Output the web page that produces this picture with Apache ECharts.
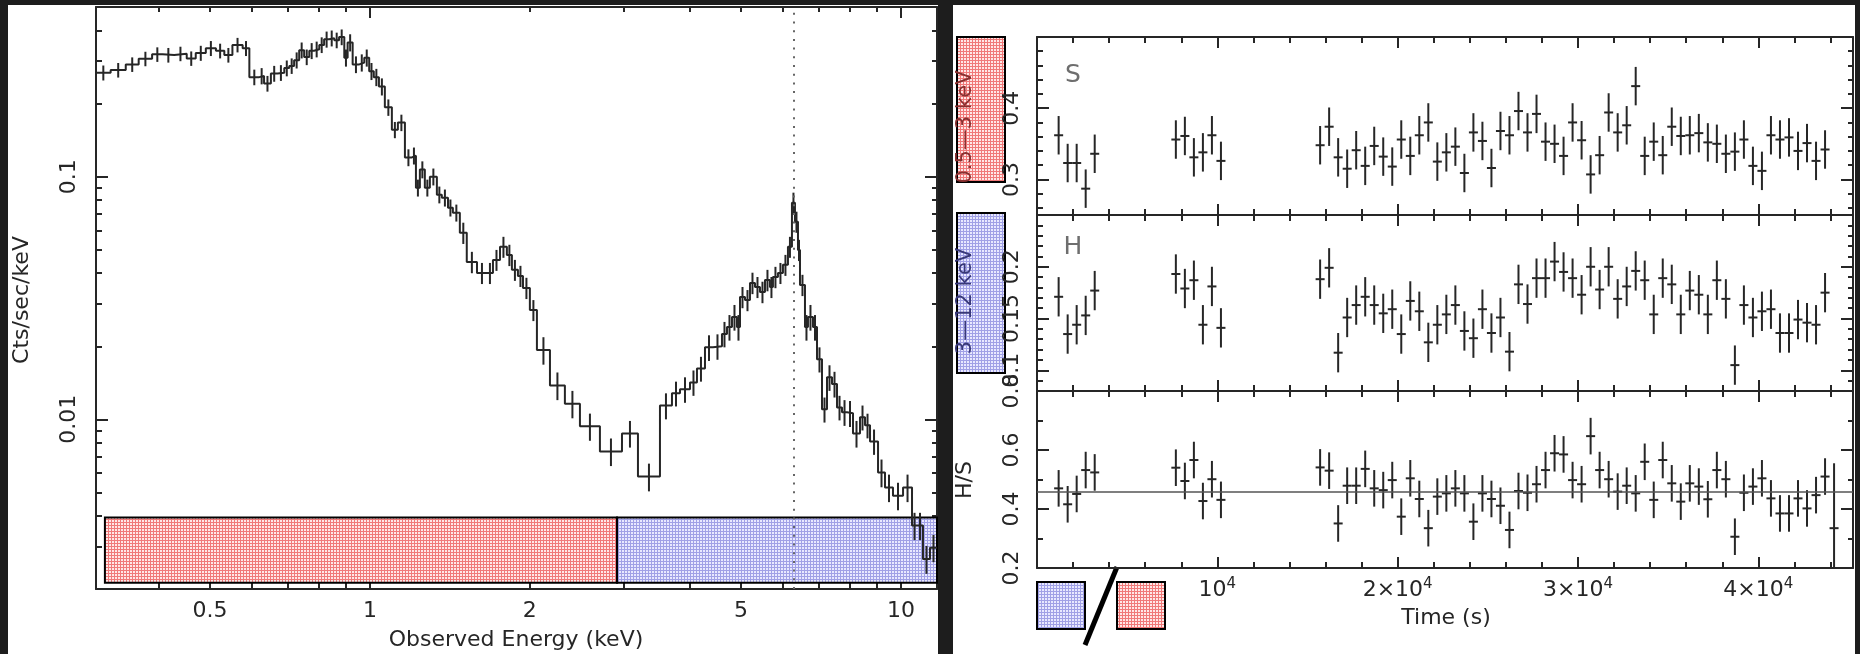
<!DOCTYPE html>
<html>
<head>
<meta charset="utf-8">
<title>Spectrum and light curves</title>
<script src="https://cdn.jsdelivr.net/npm/echarts@6/dist/echarts.min.js"></script>
<style>
  html, body { margin: 0; padding: 0; background: #1d1d1d; }
  #wrap { position: relative; width: 1860px; height: 654px; overflow: hidden; }
  .panel { position: absolute; background: #fff; top: 5px; height: 649px; }
  #chart { position: absolute; left: 0; top: 0; width: 1860px; height: 654px; }
</style>
</head>
<body>
<div id="wrap">
  <div class="panel" style="left:8px;width:930px"></div>
  <div class="panel" style="left:953px;width:902px"></div>
  <div id="chart"></div>
</div>
<script>
// ---------------- X-ray spectrum: count rate per energy bin ----------------
const binEdges = [
  0.305, 0.325, 0.347, 0.367, 0.389, 0.407, 0.428, 0.452, 0.470, 0.491,
  0.513, 0.532, 0.551, 0.576, 0.593, 0.619, 0.632, 0.651, 0.670, 0.690,
  0.705, 0.720, 0.736, 0.752, 0.769, 0.785, 0.803, 0.820, 0.838, 0.857,
  0.875, 0.895, 0.908, 0.928, 0.955, 0.976, 0.997, 1.017, 1.040, 1.067,
  1.100, 1.129, 1.164, 1.200, 1.221, 1.242, 1.269, 1.297, 1.337, 1.366,
  1.403, 1.433, 1.477, 1.522, 1.591, 1.661, 1.705, 1.758, 1.811, 1.851,
  1.900, 1.942, 2.001, 2.063, 2.183, 2.329, 2.486, 2.711, 2.983, 3.197,
  3.517, 3.705, 3.836, 4.006, 4.129, 4.275, 4.426, 4.602, 4.703, 4.806,
  4.911, 4.976, 5.085, 5.196, 5.310, 5.426, 5.545, 5.666, 5.740, 5.866,
  5.994, 6.126, 6.233, 6.315, 6.398, 6.454, 6.595, 6.681, 6.828, 6.948,
  7.100, 7.256, 7.415, 7.578, 7.744, 7.914, 8.122, 8.372, 8.556, 8.744,
  9.053, 9.330, 9.659, 10.09, 10.49, 10.72, 11.00, 11.34, 11.69
];
const countRate = [
  0.268, 0.275, 0.290, 0.306, 0.319, 0.317, 0.321, 0.307, 0.323, 0.338,
  0.330, 0.317, 0.349, 0.338, 0.257, 0.260, 0.242, 0.266, 0.268, 0.280,
  0.286, 0.302, 0.332, 0.311, 0.330, 0.335, 0.349, 0.368, 0.372, 0.365,
  0.376, 0.309, 0.357, 0.290, 0.295, 0.309, 0.272, 0.257, 0.235, 0.193,
  0.156, 0.167, 0.120, 0.122, 0.090, 0.107, 0.090, 0.100, 0.0843, 0.0819,
  0.0745, 0.0710, 0.0587, 0.0445, 0.0401, 0.0401, 0.0454, 0.0514, 0.0476, 0.0413,
  0.0390, 0.0348, 0.0282, 0.0193, 0.0138, 0.0116, 0.00936, 0.00738, 0.00875, 0.00581,
  0.0114, 0.0128, 0.0133, 0.0142, 0.0162, 0.0198, 0.0200, 0.0225, 0.0240, 0.0264,
  0.0240, 0.0319, 0.0310, 0.0365, 0.0351, 0.0335, 0.0375, 0.0351, 0.0386, 0.0401,
  0.0433, 0.0514, 0.0781, 0.0652, 0.0499, 0.0358, 0.0240, 0.0264, 0.0240, 0.0177,
  0.0110, 0.0149, 0.0140, 0.0112, 0.0107, 0.0106, 0.00875, 0.0102, 0.00945, 0.00811,
  0.00604, 0.00524, 0.00485, 0.00524, 0.00365, 0.00365, 0.00266, 0.00296
];
const countErr = [
  0.019, 0.019, 0.020, 0.021, 0.022, 0.022, 0.022, 0.021, 0.023, 0.024,
  0.023, 0.022, 0.024, 0.024, 0.019, 0.020, 0.018, 0.020, 0.020, 0.021,
  0.021, 0.023, 0.025, 0.023, 0.025, 0.025, 0.026, 0.028, 0.028, 0.027,
  0.028, 0.025, 0.029, 0.023, 0.024, 0.025, 0.022, 0.021, 0.019, 0.015,
  0.012, 0.013, 0.0096, 0.0098, 0.0072, 0.0086, 0.0072, 0.0080, 0.0067, 0.0066,
  0.0060, 0.0057, 0.0059, 0.0045, 0.0040, 0.0040, 0.0045, 0.0051, 0.0048, 0.0041,
  0.0039, 0.0035, 0.0028, 0.0025, 0.0018, 0.0015, 0.0012, 0.00096, 0.0011, 0.00076,
  0.0014, 0.0015, 0.0016, 0.0017, 0.0019, 0.0024, 0.0024, 0.0027, 0.0029, 0.0032,
  0.0029, 0.0032, 0.0031, 0.0037, 0.0035, 0.0034, 0.0038, 0.0035, 0.0039, 0.0040,
  0.0043, 0.0051, 0.0078, 0.0065, 0.0050, 0.0036, 0.0029, 0.0032, 0.0029, 0.0021,
  0.0013, 0.0018, 0.0017, 0.0013, 0.0013, 0.0013, 0.0011, 0.0012, 0.0011, 0.00097,
  0.00079, 0.00068, 0.00063, 0.00068, 0.00047, 0.00047, 0.00035, 0.00038
];
const feLineEnergy = 6.29;               // keV, dotted marker
const softBand = [0.317, 2.92];          // keV span of the red band box
const hardBand = [2.92, 11.69];          // keV span of the blue band box

const energyMinorTicks = [0.4, 0.5, 0.6, 0.7, 0.8, 0.9, 2, 3, 4, 5, 6, 7, 8, 9];
const energyMajorTicks = [1, 10];
const energyTickLabels = ['0.5', '1', '2', '5', '10'];
const rateMinorTicks = [0.003, 0.004, 0.005, 0.006, 0.007, 0.008, 0.009,
  0.02, 0.03, 0.04, 0.05, 0.06, 0.07, 0.08, 0.09, 0.2, 0.3, 0.4];
const rateMajorTicks = [0.01, 0.1];
const rateTickLabels = ['0.01', '0.1'];

// ---------------- Light curves, 500 s bins ----------------
const time = [
  1200, 1700, 2200, 2700, 3200,
  7700, 8200, 8700, 9200, 9700, 10200,
  15700, 16200, 16700, 17200, 17700, 18200, 18700, 19200, 19700, 20200,
  20700, 21200, 21700, 22200, 22700, 23200, 23700, 24200, 24700, 25200,
  25700, 26200, 26700, 27200, 27700, 28200, 28700, 29200, 29700, 30200,
  30700, 31200, 31700, 32200, 32700, 33200, 33700, 34200, 34700, 35200,
  35700, 36200, 36700, 37200, 37700, 38200, 38700, 39200, 39700, 40200,
  40700, 41200, 41700, 42200, 42700, 43200, 43700, 44200
];
const soft = [
  0.362, 0.323, 0.323, 0.287, 0.336,
  0.356, 0.361, 0.331, 0.338, 0.362, 0.326,
  0.348, 0.374, 0.331, 0.315, 0.341, 0.319, 0.347, 0.332, 0.318, 0.356,
  0.333, 0.362, 0.380, 0.325, 0.338, 0.346, 0.309, 0.366, 0.354, 0.316,
  0.368, 0.362, 0.396, 0.366, 0.392, 0.353, 0.350, 0.333, 0.380, 0.355,
  0.307, 0.334, 0.394, 0.366, 0.376, 0.431, 0.333, 0.353, 0.334, 0.374,
  0.361, 0.362, 0.365, 0.352, 0.350, 0.336, 0.339, 0.356, 0.319, 0.312,
  0.362, 0.356, 0.359, 0.340, 0.351, 0.326, 0.342, null
];
const hard = [
  0.171, 0.135, 0.144, 0.153, 0.177,
  0.193, 0.179, 0.187, 0.144, 0.181, 0.141,
  0.188, 0.199, 0.117, 0.151, 0.163, 0.171, 0.163, 0.155, 0.159, 0.135,
  0.167, 0.157, 0.127, 0.144, 0.154, 0.163, 0.138, 0.131, 0.159, 0.136,
  0.151, 0.118, 0.183, 0.164, 0.189, 0.189, 0.205, 0.195, 0.189, 0.173,
  0.200, 0.178, 0.200, 0.169, 0.181, 0.196, 0.187, 0.154, 0.189, 0.183,
  0.154, 0.177, 0.173, 0.154, 0.187, 0.169, 0.105, 0.163, 0.151, 0.157,
  0.159, 0.136, 0.136, 0.149, 0.146, 0.144, 0.175, null
];
const ratio = [
  0.470, 0.416, 0.451, 0.532, 0.524,
  0.540, 0.495, 0.566, 0.427, 0.501, 0.431,
  0.541, 0.530, 0.351, 0.479, 0.479, 0.536, 0.470, 0.464, 0.498, 0.374,
  0.504, 0.434, 0.335, 0.442, 0.453, 0.470, 0.453, 0.357, 0.453, 0.434,
  0.411, 0.329, 0.461, 0.455, 0.484, 0.532, 0.589, 0.585, 0.498, 0.484,
  0.647, 0.532, 0.501, 0.459, 0.479, 0.453, 0.560, 0.431, 0.566, 0.487,
  0.425, 0.487, 0.476, 0.433, 0.532, 0.501, 0.306, 0.455, 0.476, 0.504,
  0.436, 0.385, 0.385, 0.436, 0.402, 0.447, 0.510, 0.335
];
const softErr = 0.027;
const hardErr = 0.019;
const ratioErr = [
  0.062, 0.062, 0.062, 0.062, 0.062,
  0.062, 0.062, 0.062, 0.062, 0.062, 0.062,
  0.062, 0.062, 0.062, 0.062, 0.062, 0.062, 0.062, 0.062, 0.062, 0.062,
  0.062, 0.062, 0.062, 0.062, 0.062, 0.062, 0.062, 0.062, 0.062, 0.062,
  0.062, 0.062, 0.062, 0.062, 0.062, 0.062, 0.062, 0.062, 0.062, 0.062,
  0.062, 0.062, 0.062, 0.062, 0.062, 0.062, 0.062, 0.062, 0.062, 0.062,
  0.062, 0.062, 0.062, 0.062, 0.062, 0.062, 0.062, 0.062, 0.062, 0.062,
  0.062, 0.062, 0.062, 0.062, 0.062, 0.062, 0.062, 0.22
];
const ratioMean = 0.455;
const timeBin = 500;

const timeMinorTicks = [2000, 4000, 6000, 8000, 12000, 14000, 16000, 18000,
  22000, 24000, 26000, 28000, 32000, 34000, 36000, 38000, 42000, 44000];
const timeMajorTicks = [10000, 20000, 30000, 40000];
const softMinorTicks = [0.26, 0.28, 0.32, 0.34, 0.36, 0.38, 0.42, 0.44, 0.46, 0.48];
const softMajorTicks = [0.3, 0.4];
const softTickLabels = ['0.3', '0.4'];
const hardMinorTicks = [0.09, 0.11, 0.12, 0.13, 0.14, 0.16, 0.17, 0.18, 0.19,
  0.21, 0.22, 0.23, 0.24];
const hardMajorTicks = [0.1, 0.15, 0.2];
const hardTickLabels = ['0.1', '0.15', '0.2'];
const ratioMinorTicks = [0.3, 0.5, 0.7];
const ratioMajorTicks = [0.4, 0.6];
const ratioTickLabels = ['0.2', '0.4', '0.6', '0.8'];

// ---------------- drawing ----------------
const ink = '#262626';
const font = 'DejaVu Sans';
const lg = Math.log10;

function hatch(bg, line) {
  const c = document.createElement('canvas');
  c.width = 3; c.height = 3;
  const g = c.getContext('2d');
  g.fillStyle = bg; g.fillRect(0, 0, 3, 3);
  g.fillStyle = line; g.fillRect(0, 0, 3, 1); g.fillRect(0, 0, 1, 3);
  return { image: c, repeat: 'repeat' };
}
const redHatch = hatch('#ffe6e6', '#f07878');
const blueHatch = hatch('#e8e8ff', '#a0a0e6');

function labelFor(labels, v, useLog) {
  const s = labels.find(l => Math.abs((useLog ? lg(+l) : +l) - v) < 1e-6);
  return s === undefined ? '' : s;
}

const xAxes = [], yAxes = [];
const addX = o => (xAxes.push(o), xAxes.length - 1);
const addY = o => (yAxes.push(o), yAxes.length - 1);

function tickAxis(gridIndex, position, min, max, ticks, len, withLine, labelValues, formatter, extra) {
  return {
    type: 'value', gridIndex, position, min, max,
    axisLine: { show: withLine, onZero: false, lineStyle: { color: ink, width: 2 } },
    axisTick: { show: true, inside: true, length: len, customValues: ticks,
      lineStyle: { color: ink, width: 2 } },
    axisLabel: labelValues
      ? Object.assign({ show: true, customValues: labelValues, formatter,
          color: ink, fontFamily: font, fontSize: 22 }, extra || {})
      : { show: false },
    splitLine: { show: false },
    axisPointer: { show: false }
  };
}

// --- spectrum panel (grid 0) ---
const eMin = 0.305, eMax = 11.69, rMin = 0.002, rMax = 0.5;
const grids = [{ left: 96, top: 7, width: 841, height: 582 }];
const specX = addX({ type: 'log', gridIndex: 0, min: eMin, max: eMax, show: false });
const specY = addY({ type: 'log', gridIndex: 0, min: rMin, max: rMax, show: false });
const eLo = lg(eMin), eHi = lg(eMax), rLo = lg(rMin), rHi = lg(rMax);
addX(tickAxis(0, 'bottom', eLo, eHi, energyMinorTicks.map(lg), 6, true));
addX(tickAxis(0, 'bottom', eLo, eHi, energyMajorTicks.map(lg), 12, false,
  energyTickLabels.map(s => lg(+s)), v => labelFor(energyTickLabels, v, true), { margin: 11 }));
addX(tickAxis(0, 'top', eLo, eHi, energyMinorTicks.map(lg), 5, true));
addX(tickAxis(0, 'top', eLo, eHi, energyMajorTicks.map(lg), 11, false));
addY(tickAxis(0, 'left', rLo, rHi, rateMinorTicks.map(lg), 6, true));
addY(tickAxis(0, 'left', rLo, rHi, rateMajorTicks.map(lg), 12, false,
  rateTickLabels.map(s => lg(+s)), v => labelFor(rateTickLabels, v, true), { rotate: 90, margin: 16 }));
addY(tickAxis(0, 'right', rLo, rHi, rateMinorTicks.map(lg), 5, true));
addY(tickAxis(0, 'right', rLo, rHi, rateMajorTicks.map(lg), 12, false));

const stepPts = [];
countRate.forEach((r, i) => { stepPts.push([binEdges[i], r], [binEdges[i + 1], r]); });
const errPts = countRate.map((r, i) => [Math.sqrt(binEdges[i] * binEdges[i + 1]), r, countErr[i]]);
const bandBoxRates = [0.00394, 0.00212];   // vertical placement of the band boxes

const series = [];
series.push({
  type: 'custom', xAxisIndex: specX, yAxisIndex: specY, z: 1, silent: true,
  data: [[softBand[0], softBand[1], 0], [hardBand[0], hardBand[1], 1]],
  renderItem(params, api) {
    const p1 = api.coord([api.value(0), bandBoxRates[0]]);
    const p2 = api.coord([api.value(1), bandBoxRates[1]]);
    return { type: 'rect', shape: { x: p1[0], y: p1[1], width: p2[0] - p1[0], height: p2[1] - p1[1] },
      style: { fill: api.value(2) === 0 ? redHatch : blueHatch, stroke: '#000', lineWidth: 2 } };
  }
});
series.push({
  type: 'custom', xAxisIndex: specX, yAxisIndex: specY, z: 3, silent: true, clip: true,
  data: errPts,
  renderItem(params, api) {
    const a = api.coord([api.value(0), api.value(1) - api.value(2)]);
    const b = api.coord([api.value(0), api.value(1) + api.value(2)]);
    return { type: 'line', shape: { x1: a[0], y1: a[1], x2: b[0], y2: b[1] },
      style: { stroke: ink, lineWidth: 2 } };
  },
  markLine: {
    silent: true, symbol: 'none', animation: false,
    label: { show: false },
    lineStyle: { color: '#666', width: 2, type: [2, 6.7] },
    data: [{ xAxis: feLineEnergy }]
  }
});
series.push({
  type: 'line', xAxisIndex: specX, yAxisIndex: specY, z: 4, silent: true,
  data: stepPts, symbol: 'none', clip: true,
  lineStyle: { color: ink, width: 2 }
});

// --- light-curve panels (grids 1..3) ---
const tMin = 0, tMax = 45250;
const panels = [
  { top: 37, height: 178, min: 0.25, max: 0.5, minor: softMinorTicks, major: softMajorTicks,
    labels: softTickLabels, values: soft, err: () => softErr },
  { top: 215, height: 176, min: 0.08, max: 0.25, minor: hardMinorTicks, major: hardMajorTicks,
    labels: hardTickLabels, values: hard, err: () => hardErr },
  { top: 391, height: 177, min: 0.2, max: 0.8, minor: ratioMinorTicks, major: ratioMajorTicks,
    labels: ratioTickLabels, values: ratio, err: i => ratioErr[i] }
];
const timeRich = {
  b: { fontSize: 22, fontFamily: font, color: ink, lineHeight: 26 },
  s: { fontSize: 15, fontFamily: font, color: ink, lineHeight: 10, verticalAlign: 'top' }
};
const timeFmt = v => {
  const k = Math.round(v / 10000);
  return k === 1 ? '{b|10}{s|4}' : '{b|' + k + '×10}{s|4}';
};

panels.forEach((p, n) => {
  const g = grids.length;
  grids.push({ left: 1037, top: p.top, width: 816, height: p.height });
  const last = n === panels.length - 1;
  const xi = addX(tickAxis(g, 'bottom', tMin, tMax, timeMinorTicks, 6, true));
  addX(tickAxis(g, 'bottom', tMin, tMax, timeMajorTicks, 11, false,
    last ? timeMajorTicks : null, timeFmt, { margin: 9, rich: timeRich }));
  addX(tickAxis(g, 'top', tMin, tMax, timeMinorTicks, 6, true));
  addX(tickAxis(g, 'top', tMin, tMax, timeMajorTicks, 11, false));
  const yi = addY(tickAxis(g, 'left', p.min, p.max, p.minor, 6, true));
  addY(tickAxis(g, 'left', p.min, p.max, p.major, 12, false,
    p.labels.map(Number), v => labelFor(p.labels, v, false), { rotate: 90, margin: 14 }));
  addY(tickAxis(g, 'right', p.min, p.max, p.minor, 5, true));
  addY(tickAxis(g, 'right', p.min, p.max, p.major, 12, false));

  const data = [];
  time.forEach((t, i) => { if (p.values[i] !== null) data.push([t, p.values[i], p.err(i)]); });
  const s = {
    type: 'custom', xAxisIndex: xi, yAxisIndex: yi, z: 3, silent: true, clip: true, data,
    renderItem(params, api) {
      const t = api.value(0), v = api.value(1), e = api.value(2);
      const a = api.coord([t - timeBin / 2, v]), b = api.coord([t + timeBin / 2, v]);
      const c = api.coord([t, v - e]), d = api.coord([t, v + e]);
      return { type: 'group', children: [
        { type: 'line', shape: { x1: a[0], y1: a[1], x2: b[0], y2: b[1] }, style: { stroke: ink, lineWidth: 2 } },
        { type: 'line', shape: { x1: c[0], y1: c[1], x2: d[0], y2: d[1] }, style: { stroke: ink, lineWidth: 2 } }
      ] };
    }
  };
  if (last) {
    s.markLine = { silent: true, symbol: 'none', animation: false, label: { show: false },
      lineStyle: { color: '#555', width: 1.5, type: 'solid' }, data: [{ yAxis: ratioMean }] };
  }
  series.push(s);
});

// --- texts and band keys ---
const txt = (text, x, y, opts) => Object.assign({
  type: 'text', x, y, silent: true,
  style: Object.assign({ text, fill: ink, font: '22px "DejaVu Sans"', align: 'center', verticalAlign: 'middle' },
    (opts && opts.style) || {})
}, opts && opts.rotation !== undefined ? { rotation: opts.rotation } : {});

const graphic = [
  txt('Cts/sec/keV', 22, 300, { rotation: Math.PI / 2 }),
  txt('Observed Energy (keV)', 516, 640),
  txt('Time (s)', 1446, 618),
  txt('H/S', 965, 480, { rotation: Math.PI / 2 }),
  txt('S', 1073, 75, { style: { fill: '#6e6e6e', font: '25px "DejaVu Sans"' } }),
  txt('H', 1073, 247, { style: { fill: '#6e6e6e', font: '25px "DejaVu Sans"' } }),
  { type: 'rect', shape: { x: 957, y: 37, width: 48, height: 145 }, silent: true,
    style: { fill: redHatch, stroke: '#000', lineWidth: 2 } },
  { type: 'rect', shape: { x: 957, y: 213, width: 48, height: 160 }, silent: true,
    style: { fill: blueHatch, stroke: '#000', lineWidth: 2 } },
  txt('0.5\u20143 keV', 966, 127, { rotation: Math.PI / 2, style: { fill: '#8a3030', font: '21px "DejaVu Sans"' } }),
  txt('3\u201412 keV', 966, 301, { rotation: Math.PI / 2, style: { fill: '#383878', font: '21px "DejaVu Sans"' } }),
  { type: 'rect', shape: { x: 1037, y: 582, width: 48, height: 47 }, silent: true,
    style: { fill: blueHatch, stroke: '#000', lineWidth: 2 } },
  { type: 'rect', shape: { x: 1117, y: 582, width: 48, height: 47 }, silent: true,
    style: { fill: redHatch, stroke: '#000', lineWidth: 2 } },
  { type: 'line', shape: { x1: 1117, y1: 567, x2: 1085, y2: 645 }, silent: true,
    style: { stroke: '#000', lineWidth: 5 } }
];

const chart = echarts.init(document.getElementById('chart'));
chart.setOption({
  animation: false,
  backgroundColor: 'transparent',
  grid: grids.map(g => Object.assign({ outerBoundsMode: 'none', containLabel: false }, g)),
  xAxis: xAxes,
  yAxis: yAxes,
  series,
  graphic
});
</script>
</body>
</html>
